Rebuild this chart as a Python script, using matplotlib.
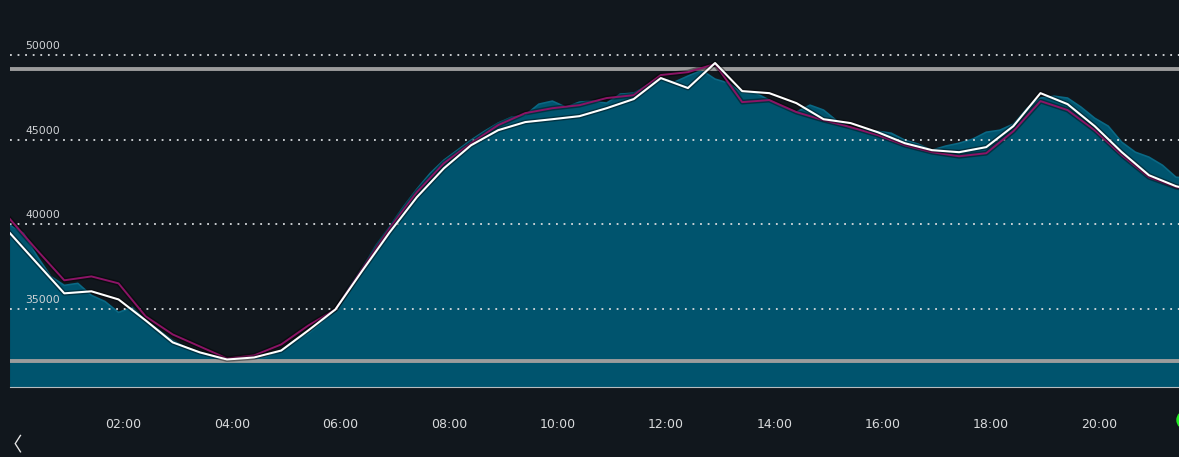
import numpy as np
import matplotlib
matplotlib.use('Agg')
import matplotlib.pyplot as plt
import matplotlib.patheffects as pe
from matplotlib.patches import Circle

# half-hourly series (minutes after midnight, first point just before 00:00)
line_minutes = np.arange(-5.5, 1320, 30)
white_vals = [39470, 37690, 35920, 36040, 35560, 34320, 33020, 32430, 32010, 32130,
              32540, 33730, 34970, 37280, 39530, 41600, 43310, 44670, 45560, 46040,
              46210, 46390, 46860, 47400, 48640, 48050, 49530, 47870, 47750, 47160,
              46210, 45980, 45440, 44790, 44380, 44260, 44560, 45800, 47750, 47100,
              45800, 44260, 42900, 42250, 41890]
purple_vals = [40300, 38460, 36690, 36920, 36510, 34560, 33490, 32780, 32070, 32250,
               32900, 34020, 34970, 37400, 39760, 41890, 43610, 44790, 45860, 46570,
               46860, 47040, 47460, 47630, 48820, 48990, 49470, 47220, 47340, 46630,
               46150, 45740, 45270, 44670, 44260, 44020, 44200, 45500, 47280, 46750,
               45560, 44080, 42780, 42190, 41890]

# quarter-hourly area series
area_minutes = np.arange(-5.5, 1320, 15)[:88]
area_vals = [39940, 39470, 38110, 36920, 36390, 36510, 35800, 35440, 34790, 35090,
             34320, 33730, 33140, 32720, 32430, 32190, 32010, 32010, 32010, 32190,
             32540, 33140, 33550, 34200, 34970, 36270, 37460, 38760, 39880, 41010,
             42070, 43020, 43790, 44380, 44970, 45500, 45980, 46330, 46450, 47100,
             47280, 46920, 47220, 47280, 47160, 47690, 47750, 48220, 48640, 48400,
             48760, 49110, 48580, 48340, 47750, 47750, 47340, 46920, 46630, 47040,
             46750, 46100, 45680, 45560, 45500, 45380, 44970, 44730, 44380, 44620,
             44790, 45030, 45440, 45560, 45920, 46860, 47460, 47570, 47460, 46920,
             46270, 45800, 44850, 44260, 43970, 43490, 42780, 42720]

grid_vals = [35000, 40000, 45000, 50000]
limit_vals = [49172, 31923]
tick_hours = [2, 4, 6, 8, 10, 12, 14, 16, 18, 20]

bg = '#11171d'
fig = plt.figure(figsize=(11.79, 4.57), dpi=100, facecolor=bg)
ax = fig.add_axes([10 / 1179, 70 / 457, 1169 / 1179, 387 / 457])
ax.set_facecolor(bg)

ax.fill_between(np.array(area_minutes) / 60, area_vals, 0, color='#00546e', lw=0, zorder=2)
ax.plot(np.array(area_minutes) / 60, area_vals, color='#0a6884', lw=1.2, zorder=2)

for v in grid_vals:
    ax.axhline(v, color='#d6d9dc', lw=1.3, linestyle=(0, (1, 3.2)), zorder=3)
    ax.text(15 / 1169, v + 230, str(v), transform=ax.get_yaxis_transform(),
            color='#d0d3d6', fontsize=7.8, va='bottom', ha='left', zorder=5)

shadow = [pe.Stroke(linewidth=3.5, foreground='#000000', alpha=0.4), pe.Normal()]
ax.plot(line_minutes / 60, purple_vals, color='#8c1466', lw=1.4, zorder=4, path_effects=shadow)
ax.plot(line_minutes / 60, white_vals, color='#ffffff', lw=1.5, zorder=4, path_effects=shadow)

for v in limit_vals:
    ax.axhline(v, color='#9c9c9c', lw=2.8, zorder=3)

ax.set_ylim(30385, 53254)
ax.set_xlim(-5 / 54, 1164 / 54 - 5 / 54)
ax.set_xticks(tick_hours)
ax.set_xticklabels(['%02d:00' % h for h in tick_hours])
ax.tick_params(axis='x', length=0, pad=22, colors='#d8dadc', labelsize=9)
ax.set_yticks([])
for pos in ['right', 'top', 'left']:
    ax.spines[pos].set_visible(False)
ax.spines['bottom'].set_color('#b8bcbf')
ax.spines['bottom'].set_linewidth(0.8)
ax.spines['bottom'].set_zorder(6)

fig.text(12 / 1179, 11 / 457, '〈', color='#e8e8e8', fontsize=14, ha='center', va='center',
         family=['Noto Sans CJK JP', 'DejaVu Sans'])
fig.patches.append(Circle((11.86, 0.37), 0.09, transform=fig.dpi_scale_trans,
                          color='#22ee22', zorder=10))

plt.savefig('out.png', facecolor=bg)
